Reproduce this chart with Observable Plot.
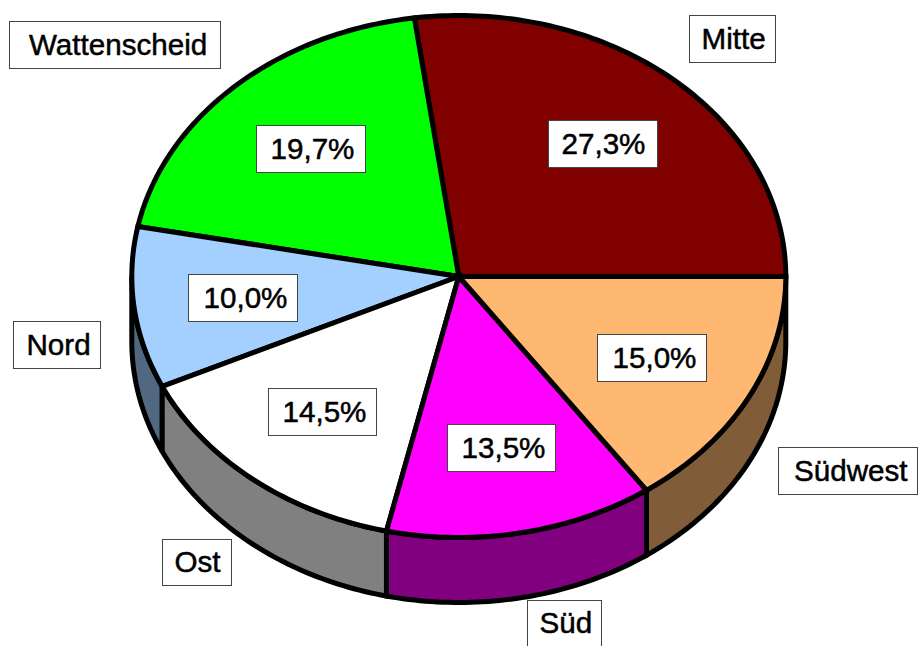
<!DOCTYPE html>
<html lang="de">
<head>
<meta charset="utf-8">
<style>html,body{margin:0;padding:0;background:#fff}svg{display:block}</style>
<script src="https://cdn.jsdelivr.net/npm/d3@7"></script>
<script src="https://cdn.jsdelivr.net/npm/@observablehq/plot@0.6"></script>
</head>
<body>
<div id="chart"></div>
<script>
// Data
const districts = ["Mitte", "Wattenscheid", "Nord", "Ost", "Süd", "Südwest"];
const shareLabels = ["27,3%", "19,7%", "10,0%", "14,5%", "13,5%", "15,0%"];
// Slice sizes as drawn in the picture, in percent of the full ellipse
const drawnShares = [27.17, 19.76, 9.99, 14.53, 13.28, 15.27];
const topColors = ["#800000", "#00ff00", "#a3d0ff", "#ffffff", "#ff00ff", "#ffb871"];
const sideColors = ["#400000", "#008000", "#526880", "#808080", "#800080", "#805c38"];

// Layout: label boxes [left, top, right, bottom, text left]
const nameBoxes = [
  [689.5, 15.5, 775.5, 62.5, 701],
  [9.5, 21.5, 220.5, 68.5, 28.5],
  [13.5, 321.5, 100.5, 368.5, 26],
  [162.5, 539.5, 231.5, 585.5, 174],
  [527.5, 600.5, 601.5, 646.5, 539],
  [778.5, 447.5, 917.5, 494.5, 793.5]
];
const shareBoxes = [
  [548.5, 120.5, 657.5, 167.5, 561],
  [256.5, 125.5, 365.5, 172.5, 270],
  [188.5, 274.5, 297.5, 321.5, 203],
  [268.5, 388.5, 376.5, 435.5, 282],
  [447.5, 424.5, 555.5, 471.5, 461],
  [597.5, 334.5, 706.5, 381.5, 612]
];

// Pie geometry
const cx = 458.8, cy = 276.5, rx = 327, ry = 261, depth = 65;
const total = d3.sum(drawnShares);
const rim = (deg, dy = 0) => ({
  x: cx + rx * Math.cos(deg * Math.PI / 180),
  y: cy - ry * Math.sin(deg * Math.PI / 180) + dy
});

const topRows = [];
const sideRows = [];
let start = 0;
districts.forEach((name, i) => {
  const end = start + drawnShares[i] / total * 360;
  const n = Math.ceil(end - start);
  for (let k = 0; k <= n; k++) {
    const deg = start + (end - start) * k / n;
    const p = rim(deg);
    topRows.push({name, x1: cx, y1: cy, x2: p.x, y2: p.y});
  }
  // the wall is visible only on the front half of the ellipse
  const a = Math.max(start, 180);
  if (end > 180) {
    const m = Math.ceil(end - a);
    for (let k = 0; k <= m; k++) {
      const deg = a + (end - a) * k / m;
      const p = rim(deg), q = rim(deg, depth);
      sideRows.push({name: name + " Seite", x1: p.x, y1: p.y, x2: q.x, y2: q.y});
    }
  }
  start = end;
});

const boxRows = (boxes, labels) => boxes.map((b, i) => ({
  x1: b[0], y1: b[1], x2: b[2], y2: b[3], tx: b[4], ty: (b[1] + b[3]) / 2, label: labels[i]
}));
const labels = [
  ...boxRows(nameBoxes, districts),
  ...boxRows(shareBoxes, shareLabels)
];

const pieStroke = {stroke: "#000", strokeWidth: 5, strokeLinejoin: "miter", strokeMiterlimit: 3};

document.getElementById("chart").append(Plot.plot({
  width: 919,
  height: 646,
  margin: 0,
  style: {background: "#fff"},
  x: {domain: [0, 919], range: [0, 919], axis: null},
  y: {domain: [0, 646], range: [0, 646], axis: null},
  color: {
    domain: [...districts, ...districts.map(d => d + " Seite")],
    range: [...topColors, ...sideColors]
  },
  marks: [
    Plot.area(sideRows, {x1: "x1", y1: "y1", x2: "x2", y2: "y2", z: "name", fill: "name", ...pieStroke}),
    Plot.area(topRows, {x1: "x1", y1: "y1", x2: "x2", y2: "y2", z: "name", fill: "name", ...pieStroke}),
    Plot.rect(labels, {x1: "x1", y1: "y1", x2: "x2", y2: "y2", fill: "#fff", stroke: "#444", strokeWidth: 1}),
    Plot.text(labels, {
      x: "tx", y: "ty", text: "label", textAnchor: "start", lineAnchor: "middle",
      fontFamily: "Liberation Sans, Arial, sans-serif", fontSize: 29.6, fill: "#000",
      stroke: "#000", strokeWidth: 0.5
    })
  ]
}));
</script>
</body>
</html>
